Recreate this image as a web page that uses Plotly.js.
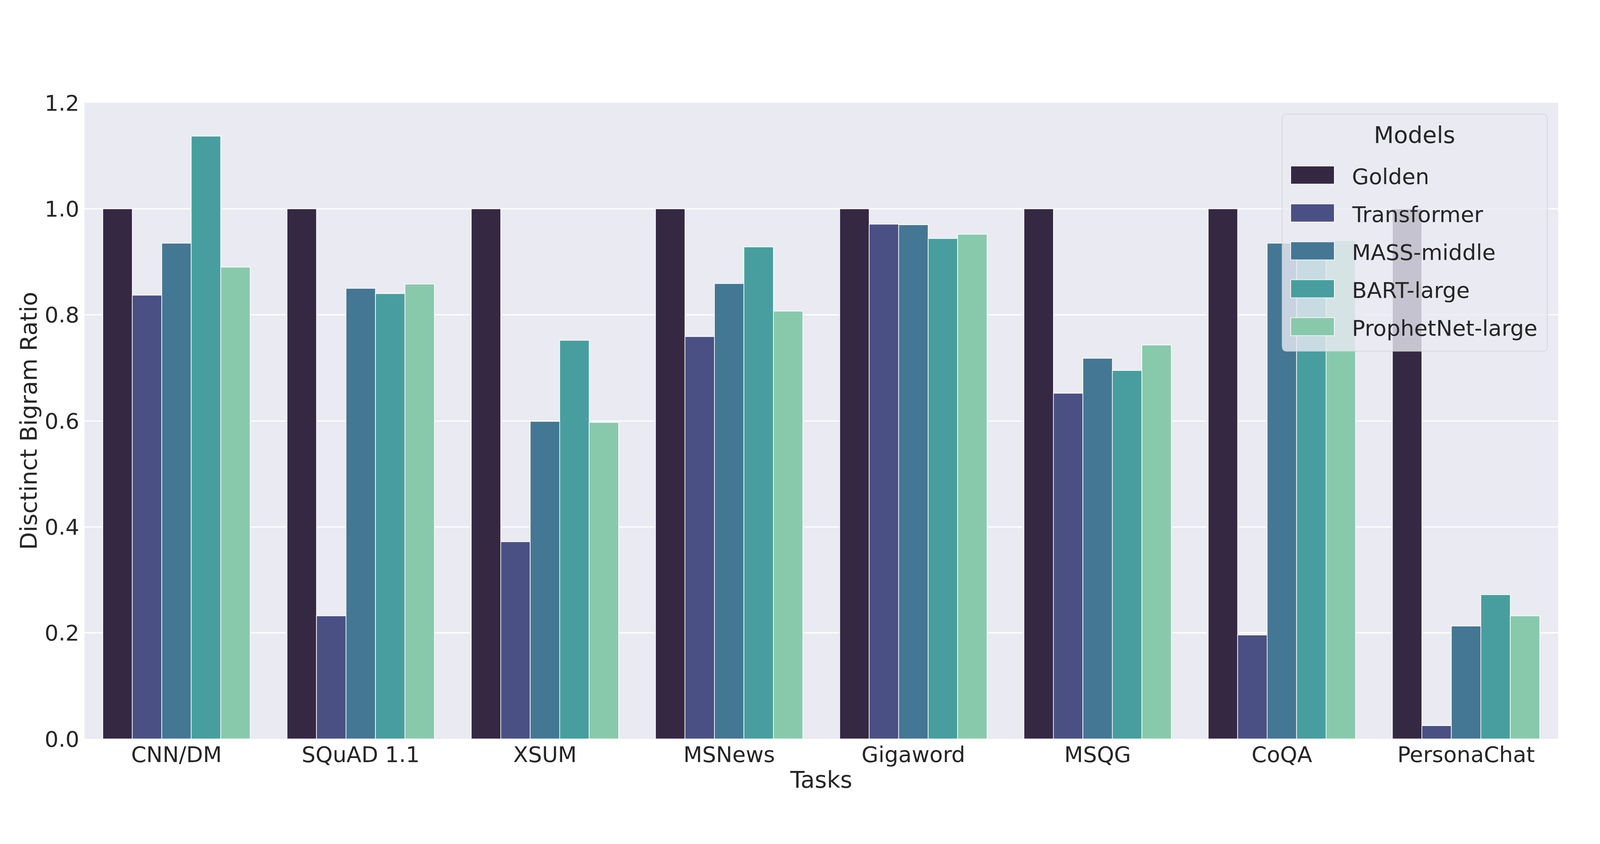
<!DOCTYPE html>
<html>
<head>
<meta charset="utf-8">
<script src="https://cdn.plot.ly/plotly-3.0.1.min.js"></script>
<style>
  html, body { margin: 0; padding: 0; background: #ffffff; overflow: hidden; }
</style>
</head>
<body>
<div id="chart"></div>
<script>
// ---- data ----
const tasks = ["CNN/DM", "SQuAD 1.1", "XSUM", "MSNews", "Gigaword", "MSQG", "CoQA", "PersonaChat"];
const models = ["Golden", "Transformer", "MASS-middle", "BART-large", "ProphetNet-large"];
const golden      = [1.000, 1.000, 1.000, 1.000, 1.000, 1.000, 1.000, 1.000];
const transformer = [0.837, 0.232, 0.372, 0.759, 0.971, 0.652, 0.196, 0.025];
const massMiddle  = [0.935, 0.850, 0.599, 0.859, 0.970, 0.718, 0.935, 0.213];
const bartLarge   = [1.137, 0.840, 0.752, 0.928, 0.944, 0.695, 0.920, 0.272];
const prophetNet  = [0.890, 0.858, 0.597, 0.807, 0.952, 0.743, 0.940, 0.232];
const yTickVals   = [0.0, 0.2, 0.4, 0.6, 0.8, 1.0, 1.2];
const yTickText   = ["0.0", "0.2", "0.4", "0.6", "0.8", "1.0", "1.2"];

// ---- style ----
const colors = ["#352843", "#4a5083", "#447794", "#489e9f", "#88c9ac"];
const series = [golden, transformer, massMiddle, bartLarge, prophetNet];
const FONT = "DejaVu Sans, Liberation Sans, sans-serif";
const TXT = "#262626";

// design is laid out at 4845x2160; scale to fill the actual viewport
const BASE_W = 4845, BASE_H = 2160;
const vw = window.innerWidth || BASE_W;
const vh = window.innerHeight || BASE_H;
const sx = vw / BASE_W, sy = vh / BASE_H;
const sf = sx;  // text scale
const W = Math.floor(vw), H = Math.floor(vh);
const BM = {l: 256, r: 126, t: 263, b: 269};
const M = {l: BM.l * sx, r: BM.r * sx, t: BM.t * sy, b: BM.b * sy, pad: 0};
const PW = BASE_W - BM.l - BM.r, PH = BASE_H - BM.t - BM.b;
const px = x => (x - BM.l) / PW;
const py = y => (BASE_H - BM.b - y) / PH;
const chartDiv = document.getElementById("chart");
chartDiv.style.width = W + "px";
chartDiv.style.height = H + "px";

const traces = models.map((name, i) => ({
  type: "bar",
  name: name,
  x: tasks,
  y: series[i],
  marker: {color: colors[i], line: {color: "#ffffff", width: 2 * sx}},
  showlegend: false,
  hoverinfo: "x+y+name"
}));

// ---- custom legend (matplotlib style) ----
const shapes = [];
const annotations = [];
const bx0 = 3883, bx1 = 4686, by0 = 292, by1 = 899, rad = 14;
const rx = rad / PW, ry = rad / PH;
const X0 = px(bx0), X1 = px(bx1), Y0 = py(by0), Y1 = py(by1);
const path = `M ${X0 + rx} ${Y0} L ${X1 - rx} ${Y0} Q ${X1} ${Y0} ${X1} ${Y0 - ry} ` +
             `L ${X1} ${Y1 + ry} Q ${X1} ${Y1} ${X1 - rx} ${Y1} ` +
             `L ${X0 + rx} ${Y1} Q ${X0} ${Y1} ${X0} ${Y1 + ry} ` +
             `L ${X0} ${Y0 - ry} Q ${X0} ${Y0} ${X0 + rx} ${Y0} Z`;
shapes.push({
  type: "path", xref: "paper", yref: "paper", path: path,
  fillcolor: "rgba(234,234,242,0.8)", line: {color: "rgba(204,204,204,0.8)", width: 2 * sx}, layer: "above"
});
annotations.push({
  xref: "paper", yref: "paper", x: px(4284), y: py(345), xanchor: "center", yanchor: "middle",
  text: "Models", showarrow: false, font: {family: FONT, size: 70 * sf, color: TXT}
});
const rowY = [448, 545, 642, 739, 836];
models.forEach((name, i) => {
  const cy = rowY[i];
  shapes.push({
    type: "rect", xref: "paper", yref: "paper",
    x0: px(3909), x1: px(4041), y0: py(cy - 23), y1: py(cy + 23),
    fillcolor: colors[i], line: {color: "#ffffff", width: 2 * sx}, layer: "above"
  });
  annotations.push({
    xref: "paper", yref: "paper", x: px(4092), y: py(cy + 3), xanchor: "left", yanchor: "middle",
    text: name, showarrow: false, font: {family: FONT, size: 66 * sf, color: TXT}
  });
});

const layout = {
  width: W, height: H,
  margin: M,
  paper_bgcolor: "#ffffff",
  plot_bgcolor: "#eaeaf2",
  font: {family: FONT, color: TXT},
  barmode: "group",
  bargap: 0.2,
  bargroupgap: 0,
  showlegend: false,
  xaxis: {
    type: "category",
    range: [-0.5, 7.5],
    showgrid: false, zeroline: false, showline: false,
    ticks: "", ticklabelstandoff: Math.round(2 * sy),
    tickfont: {family: FONT, size: 66 * sf, color: TXT},
    title: {text: "Tasks", font: {family: FONT, size: 70 * sf, color: TXT}, standoff: 12 * sy},
    automargin: false
  },
  yaxis: {
    range: [0, 1.2],
    tickvals: yTickVals, ticktext: yTickText,
    showgrid: true, gridcolor: "#ffffff", gridwidth: 3 * sy,
    zeroline: false, showline: false,
    ticks: "", ticklabelstandoff: Math.round(14 * sx),
    tickfont: {family: FONT, size: 66 * sf, color: TXT},
    title: {text: "Disctinct Bigram Ratio", font: {family: FONT, size: 70 * sf, color: TXT}, standoff: 0},
    automargin: false
  },
  shapes: shapes,
  annotations: annotations
};

Plotly.newPlot("chart", traces, layout, {displayModeBar: false, staticPlot: true});
</script>
</body>
</html>
